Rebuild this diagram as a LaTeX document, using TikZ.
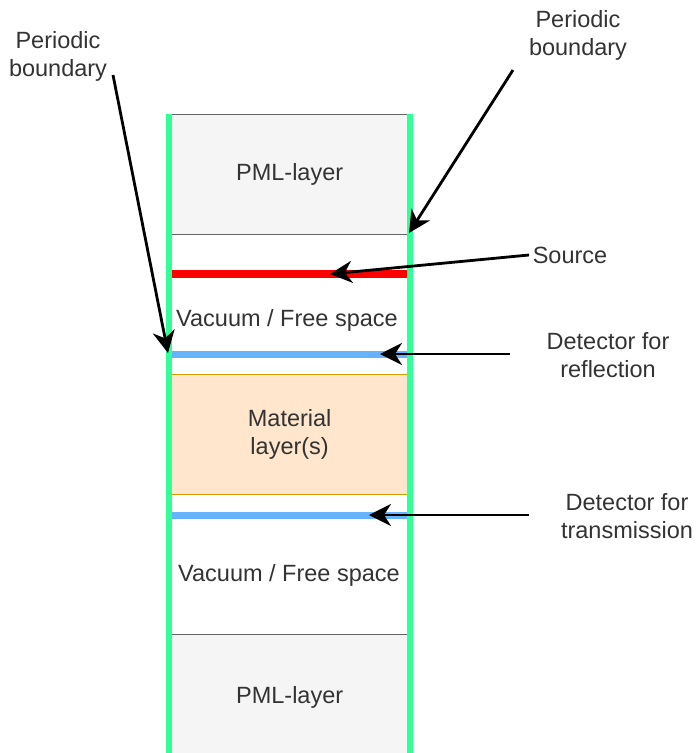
\documentclass[tikz,border=0pt]{standalone}
\usepackage{fontspec}
\setmainfont{Liberation Sans}
\usetikzlibrary{arrows.meta}

\definecolor{pmlfill}{HTML}{F5F5F5}
\definecolor{pmlline}{HTML}{666666}
\definecolor{matfill}{HTML}{FFE6CC}
\definecolor{matline}{HTML}{D79B00}
\definecolor{wallgreen}{HTML}{33FF99}
\definecolor{srcred}{HTML}{FF0000}
\definecolor{detblue}{HTML}{66B2FF}
\definecolor{txtgray}{HTML}{333333}

\begin{document}
\begin{tikzpicture}[x=1pt,y=-1pt,
  lbl/.style={text=txtgray, font=\fontsize{23.5}{28}\selectfont, align=center, inner sep=0pt},
  layerbox/.style={lbl, minimum width=242pt, anchor=north west, inner sep=0pt},
  pmlbox/.style={layerbox, fill=pmlfill, draw=pmlline, line width=1.3pt},
  matbox/.style={layerbox, fill=matfill, draw=matline, line width=1.3pt},
  wall/.style={draw=wallgreen, line width=6pt},
  srcline/.style={draw=srcred, line width=7.5pt},
  detline/.style={draw=detblue, line width=7pt},
  pointer/.style={draw=black, line width=2.8pt, -{Stealth[length=22pt,width=22pt,inset=7pt]}}
]
\useasboundingbox (0,0) rectangle (697,753);

% layers of the simulation cell
\node[pmlbox, minimum height=120pt] (pmltop) at (168,114) {PML-layer};
\node[matbox, minimum height=120pt] (mat) at (168,374) {Material\\layer(s)};
\node[pmlbox, minimum height=126pt] (pmlbot) at (168,634) {\raisebox{4pt}{PML-layer}};

\node[lbl] (vac1) at (287,320) {Vacuum / Free space};
\node[lbl] (vac2) at (289,575) {Vacuum / Free space};

% source and detector planes
\coordinate (srcL) at (171,274);
\coordinate (srcR) at (407,274);
\coordinate (refL) at (171,354);
\coordinate (refR) at (407,354);
\coordinate (trnL) at (171,515);
\coordinate (trnR) at (407,515);
\draw[srcline] (srcL) -- (srcR);
\draw[detline] (refL) -- (refR);
\draw[detline] (trnL) -- (trnR);

% periodic walls
\coordinate (lwallTop) at (168.5,114);
\coordinate (lwallBot) at (168.5,760);
\coordinate (rwallTop) at (410,114);
\coordinate (rwallBot) at (410,760);
\draw[wall] (lwallTop) -- (lwallBot);
\draw[wall] (rwallTop) -- (rwallBot);

% labels
\node[lbl] (lpb) at (58,56) {Periodic\\boundary};
\node[lbl] (rpb) at (578,35) {Periodic\\boundary};
\node[lbl] (srclbl) at (570,255) {Source};
\node[lbl] (reflbl) at (608,355) {Detector for\\reflection};
\node[lbl] (trnlbl) at (627,516) {Detector for\\transmission};

% pointer ends
\coordinate (lpbTail) at (113,75);
\coordinate (lpbHit) at (168,353);
\coordinate (rpbTail) at (513,70);
\coordinate (rpbHit) at (409,233);
\coordinate (srcTail) at (529,255);
\coordinate (srcHit) at (330,274);
\coordinate (refTail) at (510,354);
\coordinate (refHit) at (380,354);
\coordinate (trnTail) at (529,515);
\coordinate (trnHit) at (369,515);

\draw[pointer] (lpbTail) -- (lpbHit);
\draw[pointer] (rpbTail) -- (rpbHit);
\draw[pointer] (srcTail) -- (srcHit);
\draw[pointer] (refTail) -- (refHit);
\draw[pointer] (trnTail) -- (trnHit);
\end{tikzpicture}
\end{document}
